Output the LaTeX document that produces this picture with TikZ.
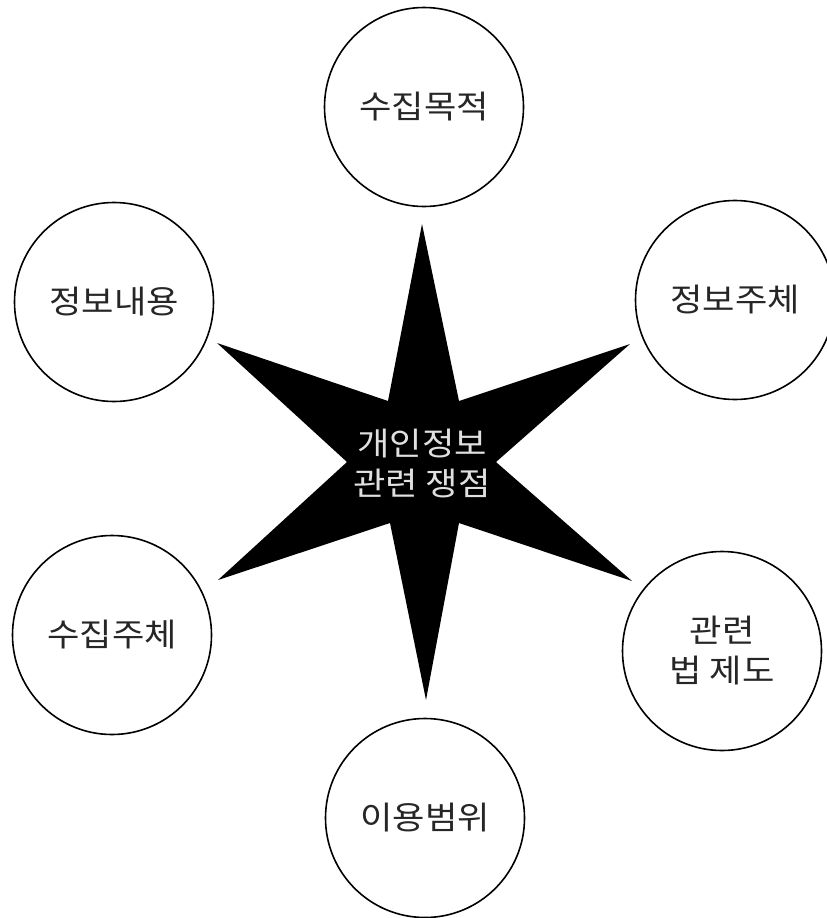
\documentclass[tikz,border=0pt]{standalone}
\usepackage{fontspec}
\newfontfamily\kr[FakeStretch=1.1]{Noto Sans CJK KR}
\begin{document}
\begin{tikzpicture}[x=1pt,y=-1pt,
  topic/.style={circle,draw=black,line width=1.6pt,minimum size=199pt,inner sep=0pt,
    font=\kr\fontsize{32}{40}\selectfont,align=center,text=black!85},
  core/.style={font=\kr\fontsize{32}{40}\selectfont,align=center,text=black!12}]
\useasboundingbox (0,0) rectangle (827,918);
\fill[white] (0,0) rectangle (827,918);
% star
\coordinate (s1) at (422,224);
\coordinate (s2) at (459,401);
\coordinate (s3) at (630,344);
\coordinate (s4) at (496,462);
\coordinate (s5) at (632,581);
\coordinate (s6) at (459,523);
\coordinate (s7) at (426,700);
\coordinate (s8) at (390,523);
\coordinate (s9) at (218,580);
\coordinate (s10) at (347,462);
\coordinate (s11) at (217,343);
\coordinate (s12) at (388,401);
\fill[black] (s1)--(s2)--(s3)--(s4)--(s5)--(s6)--(s7)--(s8)--(s9)--(s10)--(s11)--(s12)--cycle;
\node[core] (center) at (422,463) {개인정보\\관련 쟁점};
% circles
\node[topic] (purpose) at (424,107) {수집목적};
\node[topic] (subject) at (735,300) {정보주체};
\node[topic] (law) at (722,651) {관련\\법 제도};
\node[topic] (scope) at (425,818) {이용범위};
\node[topic] (collector) at (112,635) {수집주체};
\node[topic] (content) at (114,302) {정보내용};
\end{tikzpicture}
\end{document}
